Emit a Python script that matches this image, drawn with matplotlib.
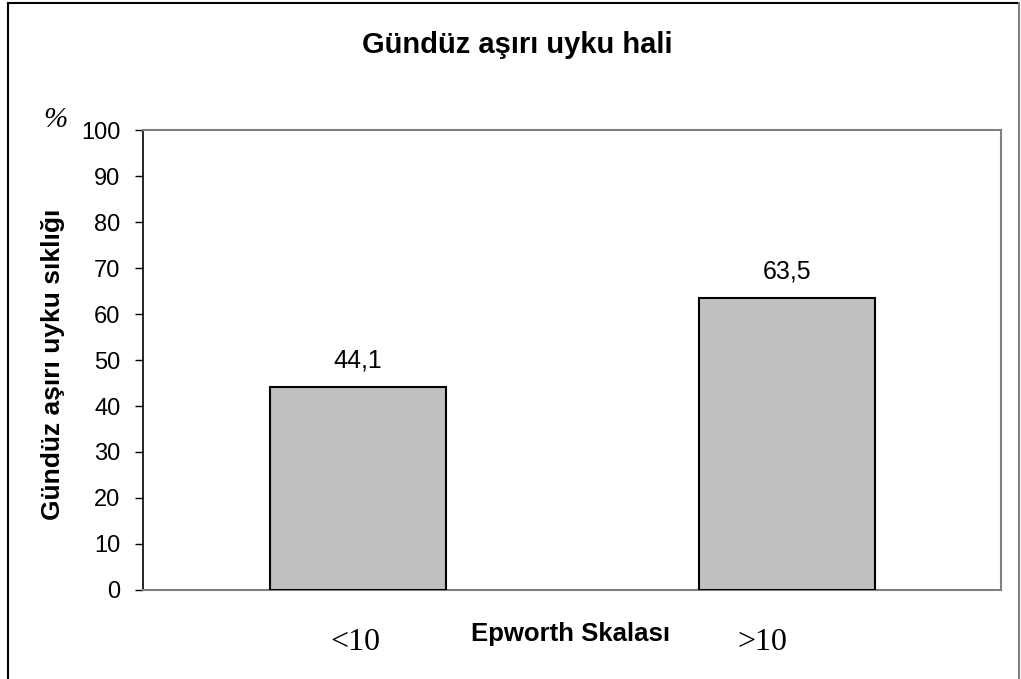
import matplotlib
matplotlib.use("Agg")
import matplotlib.pyplot as plt
from matplotlib.lines import Line2D
from matplotlib.transforms import blended_transform_factory

# Data
categories = ["<10", ">10"]
values = [44.1, 63.5]
value_labels = ["44,1", "63,5"]
yticks = list(range(0, 101, 10))

title = "Gündüz aşırı uyku hali"
ylabel = "Gündüz aşırı uyku sıklığı"
xlabel = "Epworth Skalası"

plt.rcParams["font.family"] = ["Liberation Sans", "DejaVu Sans"]

fig = plt.figure(figsize=(10.21, 6.79), dpi=100)
ax = fig.add_axes([0.1401, 0.1311, 0.8404, 0.6774])

x = list(range(len(categories)))
ax.bar(x, values, width=0.41, color="#C0C0C0", edgecolor="black",
       linewidth=1.5, zorder=3)

for xi, v, lab in zip(x, values, value_labels):
    ax.annotate(lab, (xi, v), xytext=(0, 14), textcoords="offset points",
                ha="center", va="baseline", fontsize=18)

ax.set_xlim(-0.5, 1.5)
ax.set_ylim(0, 100)
ax.set_yticks(yticks)
ax.set_yticklabels([str(t) for t in yticks], fontsize=17)
ax.tick_params(axis="y", direction="out", length=5.8, width=1, pad=10.5,
               color="black")
ax.set_xticks([])

for side in ("top", "right", "bottom"):
    ax.spines[side].set_color("#808080")
    ax.spines[side].set_linewidth(1.5)
ax.spines["left"].set_color("black")
ax.spines["left"].set_linewidth(1.2)

# Category labels under the bars
trans = blended_transform_factory(ax.transData, ax.transAxes)
cat_pos = [-0.006, 0.943]
for cx, cat in zip(cat_pos, categories):
    ax.text(cx, -0.115, cat, transform=trans, ha="center", va="center",
            fontsize=23, family=["Liberation Serif", "DejaVu Serif"])

fig.text(0.5585, 0.066, xlabel, ha="center", va="center", fontsize=18.5,
         fontweight="bold")
fig.text(0.052, 0.463, ylabel, ha="center", va="center", rotation=90,
         fontsize=19, fontweight="bold")
fig.text(0.054, 0.824, "%", ha="center", va="center", fontsize=21,
         family=["Liberation Serif", "DejaVu Serif"], style="italic")
fig.text(0.507, 0.933, title, ha="center", va="center", fontsize=21,
         fontweight="bold")

# Outer frame
fig.add_artist(Line2D([0.0083, 0.0083], [0.0, 0.995], color="black",
                      linewidth=1.5, transform=fig.transFigure))
fig.add_artist(Line2D([0.0083, 0.998], [0.995, 0.995], color="black",
                      linewidth=1.5, transform=fig.transFigure))
fig.add_artist(Line2D([0.998, 0.998], [0.0, 0.995], color="#808080",
                      linewidth=1.5, transform=fig.transFigure))

fig.savefig("out.png", dpi=100)
